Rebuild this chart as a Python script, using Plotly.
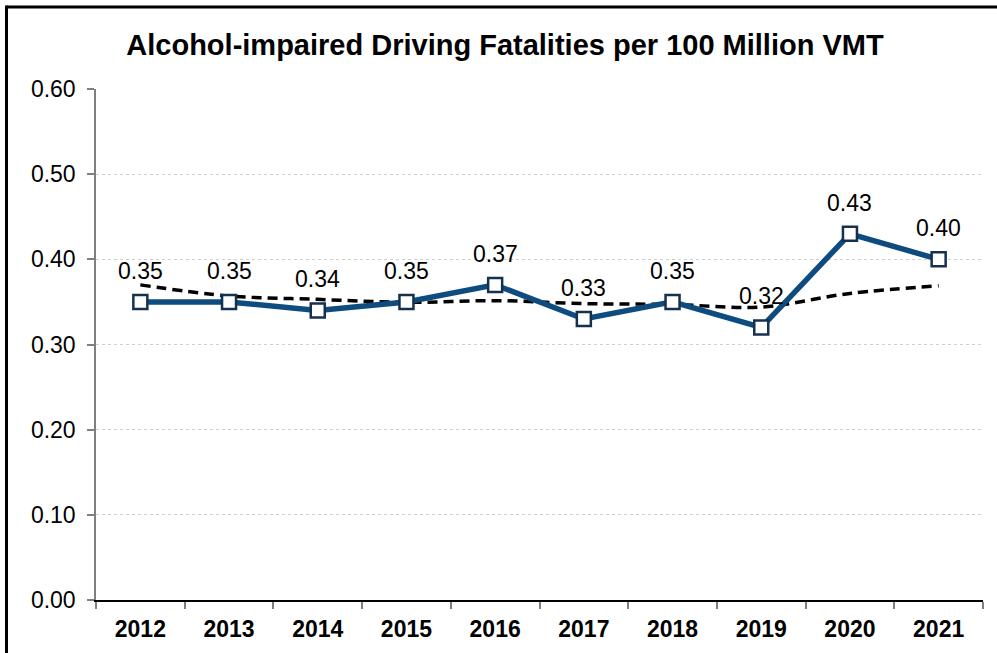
import plotly.graph_objects as go

years = ["2012", "2013", "2014", "2015", "2016", "2017", "2018", "2019", "2020", "2021"]
rate = [0.35, 0.35, 0.34, 0.35, 0.37, 0.33, 0.35, 0.32, 0.43, 0.40]
rate_labels = ["0.35", "0.35", "0.34", "0.35", "0.37", "0.33", "0.35", "0.32", "0.43", "0.40"]
trend = [0.370, 0.357, 0.353, 0.3495, 0.3515, 0.348, 0.347, 0.344, 0.360, 0.369]
y_ticks = [0.0, 0.1, 0.2, 0.3, 0.4, 0.5, 0.6]

L, R, T, B = 96, 14, 89, 53
W, H = 997, 653
pw, ph = W - L - R, H - T - B
FONT = "Arial, 'Liberation Sans', sans-serif"

fig = go.Figure()
fig.add_trace(go.Scatter(
    x=years, y=trend, mode="lines",
    line=dict(color="black", width=3.5, dash="10px,6px", shape="spline", smoothing=1.0),
    hoverinfo="skip", showlegend=False,
))
fig.add_trace(go.Scatter(
    x=years, y=rate, mode="lines+markers",
    line=dict(color="#0E4C80", width=5.5),
    marker=dict(symbol="square", size=14, color="white",
                line=dict(color="#16304F", width=2.5)),
    showlegend=False,
))

for i, (v, lab) in enumerate(zip(rate, rate_labels)):
    fig.add_annotation(x=i, y=v, xref="x", yref="y", text=lab, showarrow=False,
                       yanchor="middle", yshift=31,
                       font=dict(family=FONT, size=23, color="black"))

# outer border (left and top edges visible, others run off the page)
fig.add_shape(type="line", xref="paper", yref="paper",
              x0=(6.5 - L) / pw, x1=(W + 20 - L) / pw,
              y0=(H - B - 7) / ph, y1=(H - B - 7) / ph,
              line=dict(color="black", width=3), layer="above")
fig.add_shape(type="line", xref="paper", yref="paper",
              x0=(6.5 - L) / pw, x1=(6.5 - L) / pw,
              y0=-(B + 20) / ph, y1=(H - B - 5.5) / ph,
              line=dict(color="black", width=3), layer="above")

fig.update_layout(
    width=W, height=H,
    margin=dict(l=L, r=R, t=T, b=B),
    paper_bgcolor="white", plot_bgcolor="white",
    title=dict(text="<b>Alcohol-impaired Driving Fatalities per 100 Million VMT</b>",
               x=505 / W, xanchor="center", y=1 - 45 / H, yanchor="middle",
               font=dict(family=FONT, size=29, color="black")),
    font=dict(family=FONT, color="black"),
)
fig.update_xaxes(
    type="category", range=[-0.5, 9.5],
    tickson="boundaries", ticks="outside", ticklen=7, tickcolor="#808080", tickwidth=1.5,
    showline=True, linecolor="black", linewidth=1.5,
    showgrid=False, zeroline=False, ticklabelstandoff=8,
    tickfont=dict(family=FONT, size=23, color="black", weight="bold"),
)
fig.update_yaxes(
    range=[0, 0.6], tickvals=y_ticks, tickformat=".2f",
    ticks="outside", ticklen=7, tickcolor="#808080", tickwidth=1.5,
    showline=True, linecolor="#808080", linewidth=1.5,
    showgrid=True, gridcolor="#D0D0D0", gridwidth=1, griddash="dot",
    zeroline=False, ticklabelstandoff=7,
    tickfont=dict(family=FONT, size=23, color="black"),
)

fig.write_html("out.html", config={"displayModeBar": False},
               post_script="document.body.style.margin='0';")
